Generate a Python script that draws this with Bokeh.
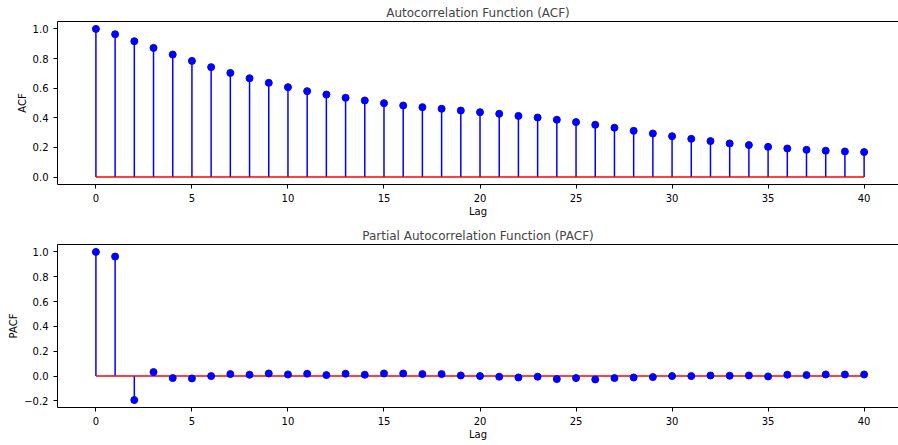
from bokeh.plotting import figure
from bokeh.layouts import column
from bokeh.models import Range1d, FixedTicker, LinearAxis, ColumnDataSource, PrintfTickFormatter
from bokeh.embed import file_html
from bokeh.resources import INLINE

lags = list(range(41))
acf_values = [1.0, 0.964, 0.917, 0.872, 0.827, 0.784, 0.742, 0.703, 0.667, 0.636,
              0.607, 0.580, 0.557, 0.535, 0.517, 0.499, 0.483, 0.472, 0.461, 0.449,
              0.438, 0.427, 0.413, 0.402, 0.387, 0.371, 0.353, 0.333, 0.312, 0.294,
              0.276, 0.258, 0.243, 0.227, 0.216, 0.204, 0.193, 0.184, 0.178, 0.173,
              0.169]
pacf_values = [1.0, 0.963, -0.193, 0.032, -0.016, -0.019, 0.0, 0.016, 0.011, 0.021,
               0.013, 0.019, 0.008, 0.019, 0.011, 0.021, 0.021, 0.016, 0.016, 0.005,
               0.0, -0.005, -0.011, -0.005, -0.024, -0.016, -0.027, -0.016, -0.011, -0.008,
               0.0, 0.0, 0.005, 0.003, 0.005, -0.003, 0.011, 0.008, 0.013, 0.013,
               0.013]
x_ticks = [0, 5, 10, 15, 20, 25, 30, 35, 40]
acf_y_ticks = [0.0, 0.2, 0.4, 0.6, 0.8, 1.0]
pacf_y_ticks = [-0.2, 0.0, 0.2, 0.4, 0.6, 0.8, 1.0]

FONT = "DejaVu Sans"


def make_panel(title, ylabel, values, yticks, yr, height, b_top, b_bottom, standoff):
    src = ColumnDataSource(dict(lag=lags, value=values, zero=[0.0] * len(lags)))
    p = figure(width=898, height=height, x_range=Range1d(-2, 41.79), y_range=Range1d(*yr),
               output_backend="svg", toolbar_location=None, title=title,
               min_border_left=57, min_border_right=0, min_border_top=b_top,
               min_border_bottom=b_bottom)
    p.outline_line_color = None
    p.grid.visible = False
    p.background_fill_color = "white"
    p.border_fill_color = "white"
    p.title.text_font = FONT
    p.title.text_font_size = "12px"
    p.title.text_font_style = "normal"
    p.title.align = "center"
    p.title.standoff = standoff

    p.segment(x0="lag", y0="zero", x1="lag", y1="value", source=src,
              line_color="#0000ff", line_width=1.5)
    p.line(x=[lags[0], lags[-1]], y=[0, 0], line_color="#ff0000", line_width=1.5)
    p.scatter("lag", "value", source=src, size=7, fill_color="#0000ff",
              line_color="#0000ff")

    p.xaxis.ticker = FixedTicker(ticks=x_ticks)
    p.yaxis.ticker = FixedTicker(ticks=yticks)
    p.yaxis.formatter = PrintfTickFormatter(format="%.1f")
    p.yaxis.major_label_overrides = {t: ("\u2212%.1f" % abs(t)) for t in yticks if t < 0}
    p.xaxis.axis_label = "Lag"
    p.yaxis.axis_label = ylabel
    for ax in (p.xaxis[0], p.yaxis[0]):
        ax.axis_line_color = "black"
        ax.axis_line_width = 1
        ax.major_tick_out = 4
        ax.major_tick_in = 0
        ax.minor_tick_out = 0
        ax.minor_tick_in = 0
        ax.major_tick_line_color = "black"
        ax.major_label_text_font = FONT
        ax.major_label_text_font_size = "10px"
        ax.major_label_text_color = "black"
        ax.axis_label_text_font = FONT
        ax.axis_label_text_font_size = "10px"
        ax.axis_label_text_font_style = "normal"
        ax.axis_label_text_color = "black"
        ax.major_label_standoff = 5
    p.xaxis.axis_label_standoff = 1
    p.yaxis.axis_label_standoff = 2

    top = LinearAxis(ticker=FixedTicker(ticks=[]), major_label_text_font_size="0px",
                     major_tick_out=0, major_tick_in=0, minor_tick_out=0, minor_tick_in=0,
                     major_label_standoff=0, axis_line_color="black", axis_line_width=1)
    p.add_layout(top, "above")
    return p


p1 = make_panel("Autocorrelation Function (ACF)", "ACF", acf_values, acf_y_ticks,
                (-0.05, 1.05), 222, 21, 38, 3)
p2 = make_panel("Partial Autocorrelation Function (PACF)", "PACF", pacf_values, pacf_y_ticks,
                (-0.253, 1.06), 223, 22, 38, 3)

layout = column(p1, p2, spacing=0)
open("out.html", "w").write(file_html(layout, INLINE))
